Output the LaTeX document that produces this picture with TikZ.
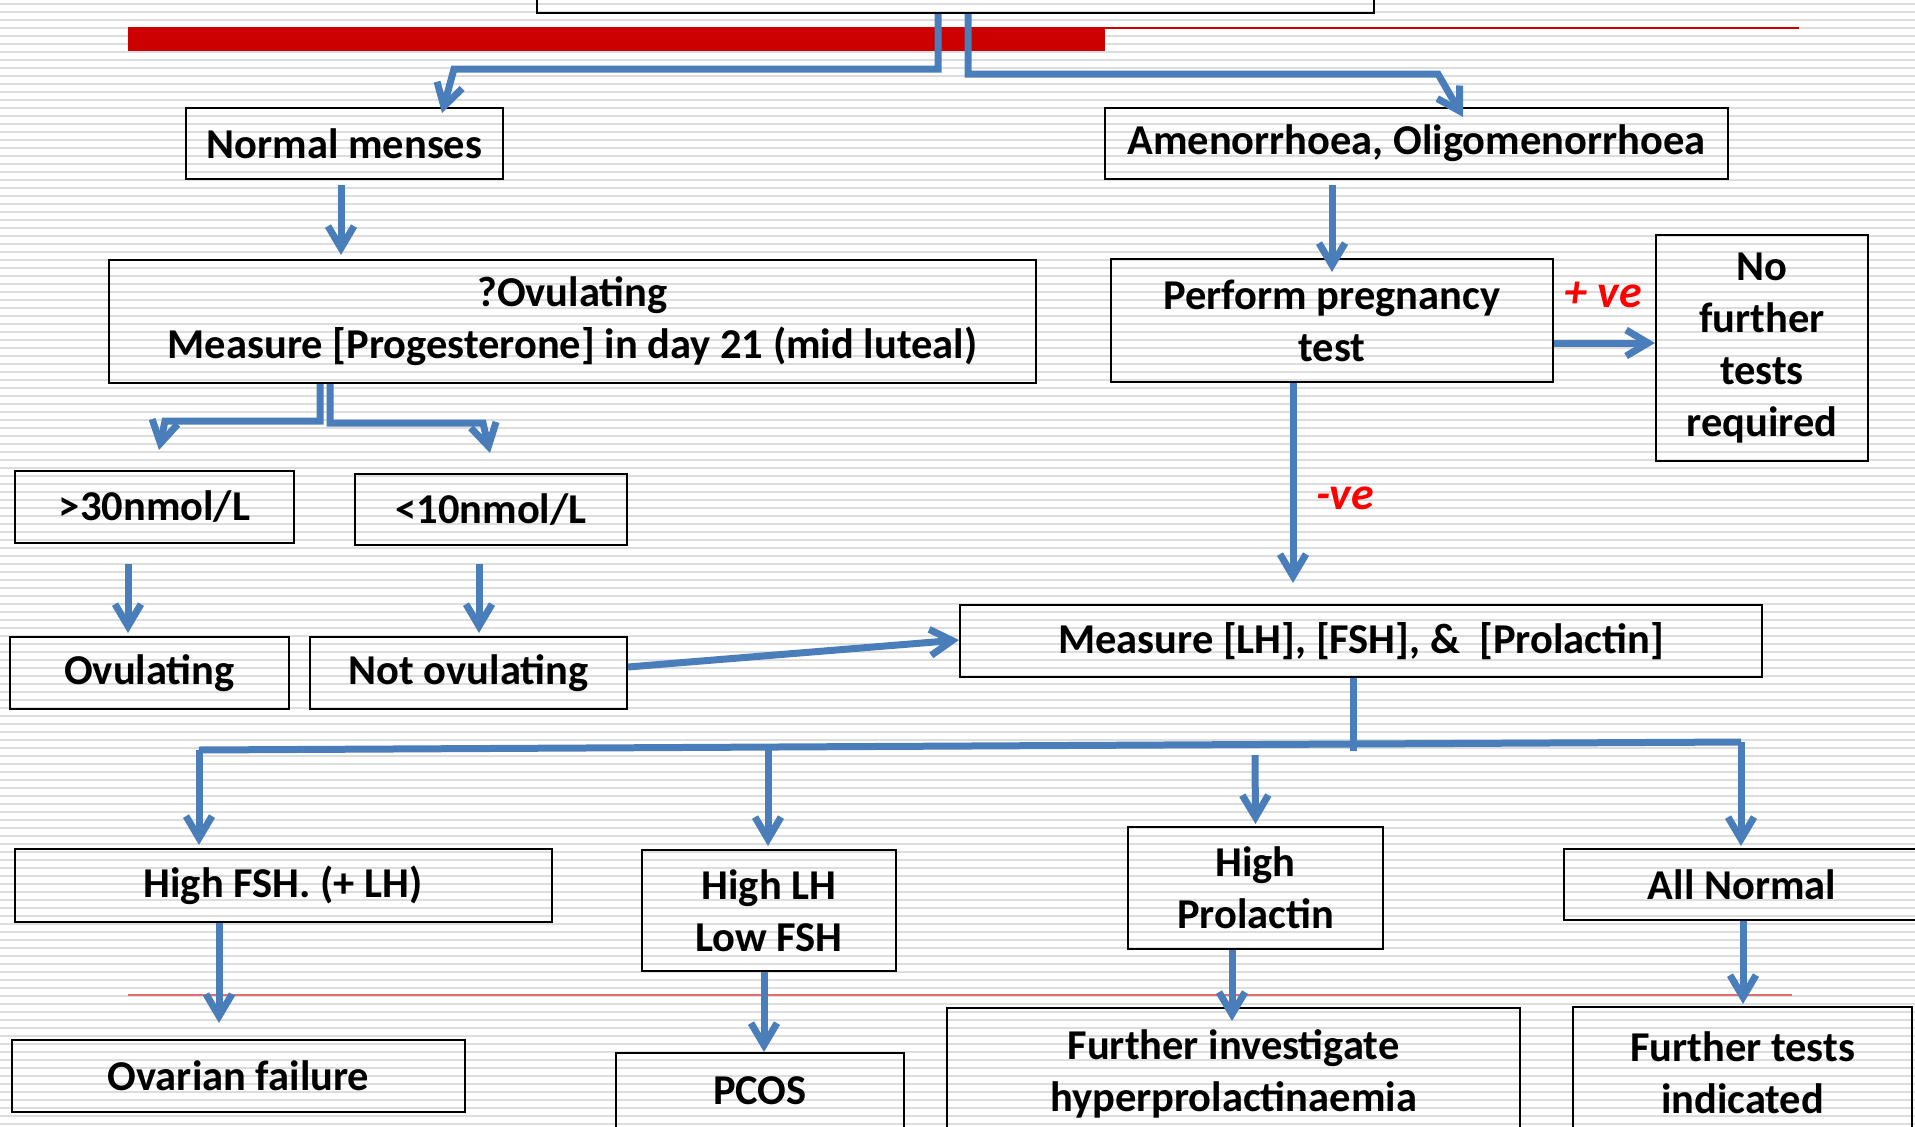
\documentclass[tikz,border=0pt]{standalone}
\usepackage{fontspec}
\setmainfont{Carlito}
\usetikzlibrary{arrows.meta}
\definecolor{connblue}{RGB}{74,126,187}
\definecolor{barred}{RGB}{204,0,0}
\definecolor{rulered}{RGB}{224,112,112}
\definecolor{stripegray}{RGB}{221,221,221}

\begin{document}
\begin{tikzpicture}[x=1pt, y=-1pt,
    box/.style={draw, line width=2pt, align=center, inner sep=0pt,
      font=\bfseries\fontsize{42.5}{52}\selectfont},
    conn/.style={draw=connblue, line width=7pt,
      -{Straight Barb[length=22pt,width=26pt]}},
    link/.style={draw=connblue, line width=7pt},
    testsign/.style={anchor=base, text=red,
      font=\bfseries\itshape\fontsize{46}{52}\selectfont}]
  \clip (0,0) rectangle (1915,1127);
  \foreach \s in {0,...,140}
    \fill[stripegray] (0,{8*\s+3}) rectangle (1915,{8*\s+5});
  \fill[barred] (128,27) rectangle (1105,51);
  \draw[barred, line width=2.5pt] (1105,28) -- (1799,28);
  \draw[rulered, line width=2pt] (128,995) -- (1792,995);

  \node[box, minimum width=837pt, minimum height=60pt] (top) at (955.5,-17) {};
  \node[box, minimum width=317pt, minimum height=71pt] (normal) at (344.5,143.5) {Normal menses};
  \node[box, minimum width=623pt, minimum height=71pt] (amen) at (1416.5,143.5) {Amenorrhoea, Oligomenorrhoea};
  \node[box, minimum width=927pt, minimum height=123pt] (ovq) at (572.5,321.5)
    {?Ovulating\\Measure [Progesterone] in day 21 (mid luteal)};
  \node[box, minimum width=442pt, minimum height=123pt] (preg) at (1332,320.5) {Perform pregnancy\\test};
  \node[box, minimum width=212pt, minimum height=226pt] (nofurther) at (1762,348) {No\\further\\tests\\required};
  \node[box, minimum width=279pt, minimum height=72pt] (gt30) at (154.5,507) {>30nmol/L};
  \node[box, minimum width=272pt, minimum height=71pt] (lt10) at (491,509.5) {<10nmol/L};
  \node[box, minimum width=279pt, minimum height=72pt] (ovul) at (149.5,673) {Ovulating};
  \node[box, minimum width=317pt, minimum height=72pt] (notov) at (468.5,673) {Not ovulating};
  \node[box, minimum width=802pt, minimum height=72pt] (measure) at (1361,641)
    {Measure [LH], [FSH], \&\ \ [Prolactin]};
  \node[box, minimum width=537pt, minimum height=73pt] (hifsh) at (283,885.5) {High FSH. (+ LH)};
  \node[box, minimum width=254pt, minimum height=121pt] (hilh) at (769,910.5) {High LH\\Low FSH};
  \node[box, minimum width=255pt, minimum height=122pt] (hiprl) at (1255.5,888) {High\\Prolactin};
  \node[box, minimum width=356pt, minimum height=71pt] (allnorm) at (1742,884.5) {All Normal};
  \node[box, minimum width=453pt, minimum height=72pt] (ovfail) at (238.5,1076) {Ovarian failure};
  \node[box, minimum width=288pt, minimum height=76pt] (pcos) at (760,1091) {PCOS};
  \node[box, minimum width=573pt, minimum height=131pt] (furtherinv) at (1233.5,1073.5)
    {Further investigate\\hyperprolactinaemia};
  \node[box, minimum width=339pt, minimum height=131pt] (furthertests) at (1742.5,1072.5)
    {Further tests\\indicated};

  \draw[conn] (top.south -| 938,0) -- (938,69) -- (454,69) -- ([yshift=-6pt]normal.north -| 442,0);
  \draw[conn] (top.south -| 968,0) -- (968,74) -- (1438,74) -- ([yshift=-10pt]amen.north -| 1463,0);
  \draw[conn] ([yshift=-5pt]normal.south -| 341,0) -- ([yshift=4pt]ovq.north -| 341,0);
  \draw[conn] ([yshift=-5pt]amen.south -| 1332,0) -- ([yshift=-14pt]preg.north);
  \draw[conn] (preg.east |- 0,343) -- (nofurther.west |- 0,343);
  \node[testsign] (pos) at (1603,307) {+ ve};
  \draw[conn] (preg.south -| 1293,0) -- ([yshift=21pt]measure.north -| 1293,0);
  \node[testsign] (neg) at (1345,509) {-ve};

  \draw[conn] (ovq.south -| 320,0) -- (320,421) -- (165,421) -- ([yshift=20pt]gt30.north -| 159,0);
  \draw[conn] (ovq.south -| 330,0) -- (330,423) -- (483,423) -- ([yshift=20pt]lt10.north -| 490,0);
  \draw[conn] ([yshift=-20pt]gt30.south -| 128,0) -- ([yshift=3pt]ovul.north -| 128,0);
  \draw[conn] ([yshift=-18pt]lt10.south -| 479,0) -- ([yshift=3pt]notov.north -| 479,0);
  \draw[conn] (notov.east |- 0,667) -- (measure.west |- 0,640);

  \coordinate (jl) at (199,750);
  \coordinate (jr) at (1741,742);
  \draw[link] (measure.south -| 1353,0) -- (1353,751);
  \draw[link] (jl) -- (jr);
  \draw[conn] (jl) -- ([yshift=3pt]hifsh.north -| jl);
  \draw[conn] (768,745) -- ([yshift=3pt]hilh.north -| 768,0);
  \draw[conn] (1255,755) -- ([yshift=2pt]hiprl.north);
  \draw[conn] (jr) -- ([yshift=2pt]allnorm.north -| jr);

  \draw[conn] (hifsh.south -| 219,0) -- ([yshift=16pt]ovfail.north -| 219,0);
  \draw[conn] (hilh.south -| 764,0) -- (pcos.north -| 764,0);
  \draw[conn] (hiprl.south -| 1232,0) -- ([yshift=-14pt]furtherinv.north -| 1232,0);
  \draw[conn] (allnorm.south -| 1743,0) -- ([yshift=2pt]furthertests.north -| 1743,0);
\end{tikzpicture}
\end{document}
